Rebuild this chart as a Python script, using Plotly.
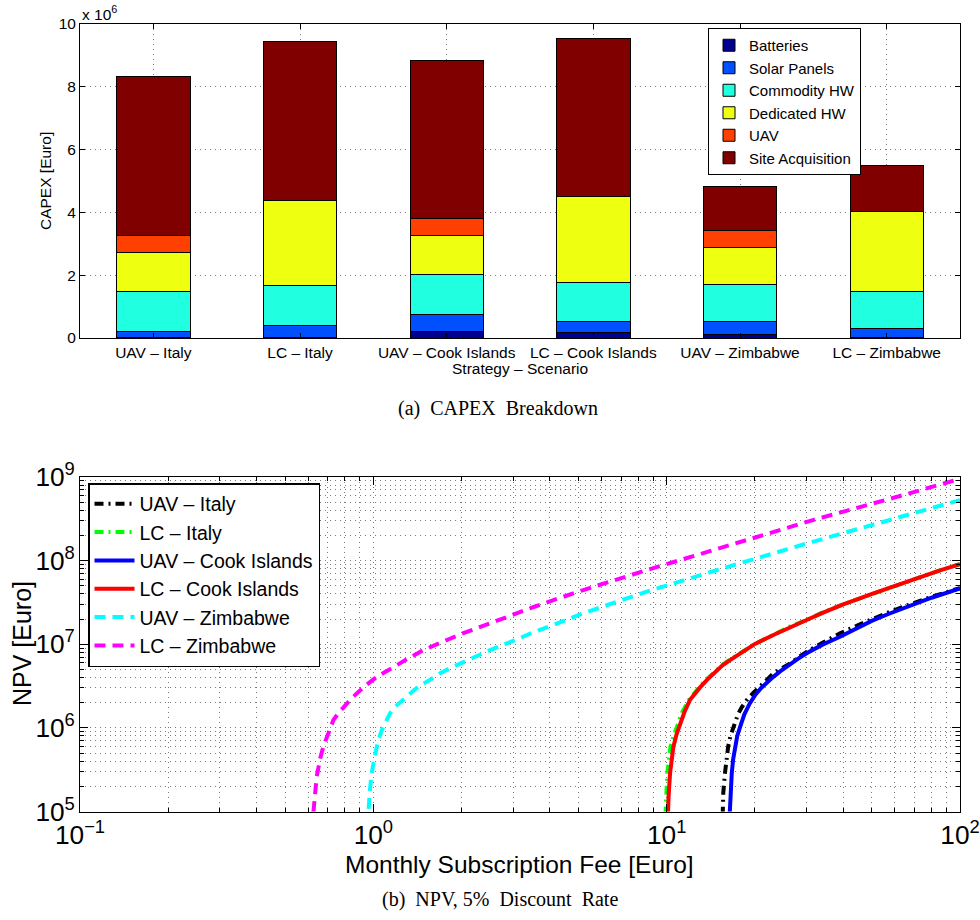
import plotly.graph_objects as go

# ---------------- (a) CAPEX breakdown data (values in 10^6 Euro) ----------------
categories = ["UAV – Italy", "LC – Italy", "UAV – Cook Islands",
              "LC – Cook Islands", "UAV – Zimbabwe", "LC – Zimbabwe"]
batteries = [0.01, 0.02, 0.22, 0.16, 0.10, 0.01]
solar_panels = [0.21, 0.38, 0.53, 0.35, 0.42, 0.28]
commodity_hw = [1.26, 1.27, 1.26, 1.26, 1.19, 1.19]
dedicated_hw = [1.25, 2.71, 1.26, 2.73, 1.18, 2.56]
uav_cost = [0.55, 0.0, 0.53, 0.0, 0.53, 0.0]
site_acquisition = [5.05, 5.07, 5.05, 5.04, 1.42, 1.45]
capex_tick_vals = [0, 2, 4, 6, 8, 10]

segment_names = ["Batteries", "Solar Panels", "Commodity HW",
                 "Dedicated HW", "UAV", "Site Acquisition"]
segment_colors = ["#000090", "#0050ff", "#20ffdf", "#efff10", "#ff4000", "#800000"]

# ---------------- (b) NPV data ----------------
fee_uav_italy = [15.45, 15.5, 15.6, 15.8, 16.0, 16.2, 16.5, 16.9, 17.5, 18.0, 18.75, 19.7, 20.8,
                 22, 23, 24.5, 26.4, 28, 30, 34, 39, 45, 50, 57, 65.8, 80, 100]
npv_uav_italy = [5e4, 1.0e5, 1.7e5, 2.86e5, 4.3e5, 5.94e5, 8.0e5, 1.03e6, 1.45e6, 1.75e6, 2.15e6,
                 2.6e6, 3.1e6, 3.8e6, 4.4e6, 5.1e6, 5.9e6, 6.9e6, 8.1e6, 1.04e7, 1.35e7, 1.7e7,
                 2.0e7, 2.4e7, 2.9e7, 3.7e7, 4.7e7]

fee_lc_italy = [9.83, 9.9, 9.98, 10.05, 10.2, 10.3, 10.6, 10.9, 11.3, 11.9, 12.4, 13.0, 13.6, 14.5,
                15.4, 16.5, 17.7, 19, 20, 23.1, 26, 30, 34, 40, 50.7, 60, 70, 85, 100]
npv_lc_italy = [5e4, 1.0e5, 1.8e5, 2.86e5, 4.4e5, 5.94e5, 8.3e5, 1.13e6, 1.55e6, 2.15e6, 2.6e6,
                3.15e6, 3.73e6, 4.6e6, 5.6e6, 6.6e6, 7.8e6, 9.1e6, 1.01e7, 1.29e7, 1.6e7, 1.95e7,
                2.4e7, 3.0e7, 4.06e7, 5.0e7, 6.0e7, 7.6e7, 9.1e7]

fee_uav_cook = [16.2, 16.4, 16.5, 16.67, 16.85, 17.1, 17.4, 17.8, 18.4, 19.2, 20, 21, 22, 23.1,
                24.5, 26, 28, 30, 34, 39, 45, 50, 57, 65.8, 80, 100]
npv_uav_cook = [4e4, 1.0e5, 1.8e5, 2.86e5, 4.2e5, 5.94e5, 8.0e5, 1.03e6, 1.45e6, 1.96e6, 2.45e6,
                3.0e6, 3.55e6, 4.08e6, 4.8e6, 5.6e6, 6.7e6, 7.8e6, 9.9e6, 1.23e7, 1.57e7, 1.9e7,
                2.3e7, 2.81e7, 3.6e7, 4.67e7]

fee_lc_cook = [10.05, 10.1, 10.15, 10.27, 10.4, 10.54, 10.8, 11.1, 11.5, 12.0, 12.5, 13.0, 13.7,
               14.5, 15.5, 16.5, 17.8, 19, 20, 23.1, 26, 30, 34, 40, 50.7, 60, 70, 85, 100]
npv_lc_cook = [5e4, 1.0e5, 1.5e5, 2.86e5, 4.2e5, 5.94e5, 8.3e5, 1.13e6, 1.55e6, 2.15e6, 2.6e6,
               3.05e6, 3.73e6, 4.5e6, 5.6e6, 6.5e6, 7.8e6, 9.0e6, 1.01e7, 1.29e7, 1.57e7, 1.95e7,
               2.37e7, 3.0e7, 4.06e7, 5.0e7, 6.0e7, 7.6e7, 9.1e7]

fee_uav_zim = [0.955, 0.962, 0.975, 0.987, 1.01, 1.04, 1.07, 1.14, 1.2, 1.25, 1.33, 1.42, 1.55,
               1.69, 1.85, 2.0, 2.5, 3.0, 3.5, 4.2, 5.2, 8.55, 15, 30, 60, 100]
npv_uav_zim = [4.0e4, 1.0e5, 1.9e5, 2.86e5, 4.5e5, 7.1e5, 9.5e5, 1.49e6, 1.85e6, 2.1e6, 2.59e6,
               3.1e6, 3.7e6, 4.49e6, 5.3e6, 6.0e6, 8.5e6, 1.1e7, 1.38e7, 1.75e7, 2.35e7, 4.25e7,
               7.8e7, 1.6e8, 3.2e8, 5.3e8]

fee_lc_zim = [0.62, 0.625, 0.641, 0.65, 0.66, 0.675, 0.70, 0.731, 0.76, 0.79, 0.833, 0.88, 0.93,
              1.027, 1.1, 1.2, 1.3, 1.48, 1.8, 2.0, 2.5, 3.0, 3.5, 4.0, 5.2, 8.55, 15, 31.5, 60, 100]
npv_lc_zim = [6.0e4, 1.0e5, 2.6e5, 3.4e5, 4.4e5, 5.94e5, 8.4e5, 1.24e6, 1.5e6, 1.76e6, 2.15e6,
              2.6e6, 3.1e6, 4.08e6, 4.75e6, 5.6e6, 6.6e6, 8.5e6, 1.14e7, 1.33e7, 1.78e7, 2.29e7,
              2.77e7, 3.26e7, 4.45e7, 7.7e7, 1.38e8, 3.05e8, 5.7e8, 9.5e8]

npv_series = [
    ("UAV – Italy", fee_uav_italy, npv_uav_italy, "#000000", "9px,5px,2px,5px"),
    ("LC – Italy", fee_lc_italy, npv_lc_italy, "#00ff00", "9px,5px,2px,5px"),
    ("UAV – Cook Islands", fee_uav_cook, npv_uav_cook, "#0000ff", "solid"),
    ("LC – Cook Islands", fee_lc_cook, npv_lc_cook, "#ff0000", "solid"),
    ("UAV – Zimbabwe", fee_uav_zim, npv_uav_zim, "#00ffff", "11px,7px"),
    ("LC – Zimbabwe", fee_lc_zim, npv_lc_zim, "#ff00ff", "11px,7px"),
]

W, H = 980, 920
SANS = "Liberation Sans, Arial, Helvetica, sans-serif"
SERIF = "Liberation Serif, Times New Roman, serif"
GRID = "#7a7a7a"

fig = go.Figure()

for name, vals, col in zip(segment_names,
                           [batteries, solar_panels, commodity_hw, dedicated_hw, uav_cost, site_acquisition],
                           segment_colors):
    fig.add_trace(go.Bar(
        x=categories, y=vals, name=name, width=0.5,
        marker=dict(color=col, line=dict(color="black", width=1)),
        xaxis="x", yaxis="y", legend="legend", hoverinfo="skip"))

for name, xs, ys, col, dash in npv_series:
    fig.add_trace(go.Scatter(
        x=xs, y=ys, name=name, mode="lines",
        line=dict(color=col, width=4, dash=dash),
        xaxis="x2", yaxis="y2", legend="legend2", hoverinfo="skip"))

x_dom = [80 / W, 960 / W]
top_dom = [(H - 338) / H, (H - 24) / H]
bot_dom = [(H - 811.5) / H, (H - 477) / H]

common_axis = dict(showline=True, linecolor="black", linewidth=1, mirror="ticks",
                   ticks="inside", tickcolor="black", zeroline=False, automargin=False,
                   gridcolor=GRID, griddash="1px,4px", gridwidth=1)

fig.update_layout(
    width=W, height=H, autosize=False,
    margin=dict(l=0, r=0, t=0, b=0, pad=0, autoexpand=False),
    paper_bgcolor="white", plot_bgcolor="white",
    font=dict(family=SANS, color="black"),
    barmode="stack", showlegend=True,
    xaxis=dict(domain=x_dom, anchor="y", type="category", range=[-0.5, 5.5],
               ticklen=5, showgrid=True, tickfont=dict(size=15.5),
               **common_axis),
    yaxis=dict(domain=top_dom, anchor="x", range=[0, 10], tickvals=capex_tick_vals,
               ticklen=5, showgrid=True, tickfont=dict(size=15.5),
               **common_axis),
    xaxis2=dict(domain=x_dom, anchor="y2", type="log", range=[-1, 2], dtick=1,
                exponentformat="power", labelalias={"1": "10<sup>0</sup>", "10": "10<sup>1</sup>"},
                ticklen=8, showgrid=True, tickfont=dict(size=21), ticklabelstandoff=1,
                minor=dict(dtick="D1", ticks="inside", ticklen=4, tickcolor="black",
                           showgrid=True, gridcolor=GRID, griddash="1px,4px"),
                **common_axis),
    yaxis2=dict(domain=bot_dom, anchor="x2", type="log", range=[5, 9], dtick=1,
                exponentformat="power", ticklen=8, showgrid=True, tickfont=dict(size=21),
                minor=dict(dtick="D1", ticks="inside", ticklen=4, tickcolor="black",
                           showgrid=True, gridcolor=GRID, griddash="1px,4px"),
                **common_axis),
    legend=dict(x=708 / W, y=1 - 28 / H, xanchor="left", yanchor="top",
                traceorder="normal", bgcolor="white", bordercolor="black", borderwidth=1,
                font=dict(size=15, family=SANS)),
    legend2=dict(x=88 / W, y=1 - 483 / H, xanchor="left", yanchor="top",
                 traceorder="normal", bgcolor="white", bordercolor="black", borderwidth=1.5,
                 font=dict(size=19.5, family=SANS), itemwidth=40),
)

ann = [
    dict(text="x 10<sup>6</sup>", x=80 / W, y=1 - 13 / H, xanchor="left", yanchor="middle",
         font=dict(size=15.5)),
    dict(text="CAPEX [Euro]", x=45 / W, y=1 - 181 / H, textangle=-90,
         xanchor="center", yanchor="middle", font=dict(size=15.5)),
    dict(text="Strategy – Scenario", x=520 / W, y=1 - 368 / H, xanchor="center", yanchor="middle",
         font=dict(size=15.5)),
    dict(text="(a)\u00a0\u00a0CAPEX\u00a0\u00a0Breakdown", x=498 / W, y=1 - 408 / H,
         xanchor="center", yanchor="middle", font=dict(size=20, family=SERIF)),
    dict(text="NPV [Euro]", x=22 / W, y=1 - 644 / H, textangle=-90,
         xanchor="center", yanchor="middle", font=dict(size=25)),
    dict(text="Monthly Subscription Fee [Euro]", x=519 / W, y=1 - 864 / H,
         xanchor="center", yanchor="middle", font=dict(size=24.5)),
    dict(text="(b)\u00a0\u00a0NPV,\u00a05%\u00a0\u00a0Discount\u00a0\u00a0Rate", x=500 / W, y=1 - 899 / H,
         xanchor="center", yanchor="middle", font=dict(size=20, family=SERIF)),
]
for a in ann:
    a.update(xref="paper", yref="paper", showarrow=False)
fig.update_layout(annotations=ann)

fig.write_html("out.html", config={"displayModeBar": False},
               post_script="document.body.style.margin='0px';document.body.style.overflow='hidden';")
